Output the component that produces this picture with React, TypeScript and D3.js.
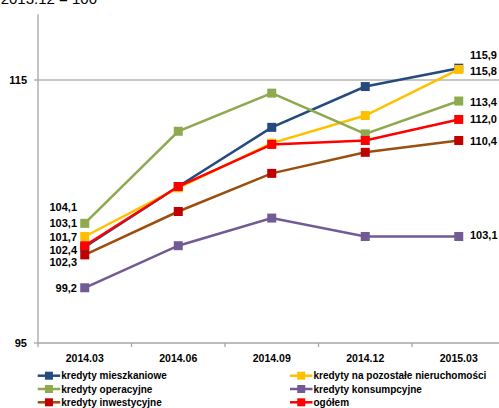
import React from "react";
import * as d3 from "d3";

const categories = ["2014.03", "2014.06", "2014.09", "2014.12", "2015.03"];
const seriesNames = [
  "kredyty mieszkaniowe",
  "kredyty na pozostałe nieruchomości",
  "kredyty operacyjne",
  "kredyty konsumpcyjne",
  "kredyty inwestycyjne",
  "ogółem",
];
const mieszkaniowe = [102.3, 106.9, 111.4, 114.5, 115.9];
const pozostale = [103.1, 106.8, 110.2, 112.3, 115.8];
const operacyjne = [104.1, 111.1, 114.0, 110.9, 113.4];
const konsumpcyjne = [99.2, 102.4, 104.5, 103.1, 103.1];
const inwestycyjne = [101.7, 105.0, 107.9, 109.5, 110.4];
const ogolem = [102.4, 106.9, 110.1, 110.4, 112.0];
const yTicks = [95, 115];
const baseLabel = "2013.12 = 100";

const seriesValues = [mieszkaniowe, pozostale, operacyjne, konsumpcyjne, inwestycyjne, ogolem];
const lineColors = ["#244A7E", "#FFC000", "#8EA94E", "#725A94", "#9B4F0F", "#FF0000"];
const markerColors = ["#244A7E", "#FFC000", "#8EA94E", "#725A94", "#C00000", "#FF0000"];
// manual label nudges (px) for first and last data labels
const firstLabelDy = [15, -13.3, -16, 0, -18.3, 4.4];
const lastLabelDy = [-13, 2, 0.6, -1, 0.2, -0.5];

export default function App() {
  const W = 499;
  const H = 408;
  const x0 = 38;
  const x = d3.scaleBand<string>().domain(categories).range([x0, 505.5]).padding(0);
  const cx = (c: string) => (x(c) as number) + x.bandwidth() / 2;
  const y = d3.scaleLinear().domain([95, 120]).range([343, 14.25]);
  const line = d3
    .line<number>()
    .x((_, i) => cx(categories[i]))
    .y((d) => y(d));
  const fmt = (v: number) => v.toFixed(1).replace(".", ",");
  const ms = 9;
  const font = "Arial, 'Liberation Sans', sans-serif";
  const ticksX = categories.map((c) => x(c) as number);

  const legendRows = [375.7, 389, 402.3];
  const legendCols = [37.7, 290];

  return (
    <svg
      width={W}
      height={H}
      style={{ position: "absolute", left: 0, top: 0 }}
      fontFamily={font}
    >
      <rect width={W} height={H} fill="#fff" />
      <text x={97} y={4} textAnchor="end" fontSize={15} fill="#000">
        {baseLabel}
      </text>
      {/* gridline */}
      {yTicks
        .filter((t) => t !== 95)
        .map((t) => (
          <line key={t} x1={x0} x2={W} y1={y(t)} y2={y(t)} stroke="#b3b3b3" strokeWidth={1.3} />
        ))}
      {/* y axis */}
      <line x1={x0} x2={x0} y1={y(120)} y2={y(95)} stroke="#a6a6a6" strokeWidth={1.3} />
      {yTicks.map((t) => (
        <g key={t}>
          <line x1={x0 - 4} x2={x0} y1={y(t)} y2={y(t)} stroke="#a6a6a6" strokeWidth={1.3} />
          <text x={27} y={y(t) + 4} textAnchor="end" fontSize={11} fontWeight="bold">
            {t}
          </text>
        </g>
      ))}
      {/* x axis */}
      <line x1={x0} x2={W} y1={y(95)} y2={y(95)} stroke="#a6a6a6" strokeWidth={1.3} />
      {ticksX.map((t, i) => (
        <line key={i} x1={t} x2={t} y1={y(95)} y2={y(95) + 4} stroke="#a6a6a6" strokeWidth={1.3} />
      ))}
      {categories.map((c) => (
        <text key={c} x={cx(c)} y={361.5} textAnchor="middle" fontSize={10.5} fontWeight="bold">
          {c}
        </text>
      ))}
      {/* series */}
      {seriesValues.map((vals, si) => (
        <g key={si}>
          <path d={line(vals) || ""} fill="none" stroke={lineColors[si]} strokeWidth={2.5} />
          {vals.map((v, i) => (
            <rect
              key={i}
              x={cx(categories[i]) - ms / 2}
              y={y(v) - ms / 2}
              width={ms}
              height={ms}
              fill={markerColors[si]}
            />
          ))}
        </g>
      ))}
      {/* data labels */}
      {seriesValues.map((vals, si) => (
        <g key={"l" + si} fontSize={11} fontWeight="bold">
          <text x={77} y={y(vals[0]) + firstLabelDy[si] + 4} textAnchor="end">
            {fmt(vals[0])}
          </text>
          <text x={470} y={y(vals[vals.length - 1]) + lastLabelDy[si] + 4} textAnchor="start">
            {fmt(vals[vals.length - 1])}
          </text>
        </g>
      ))}
      {/* legend */}
      {seriesNames.map((n, i) => {
        const lx = legendCols[i % 2];
        const ly = legendRows[Math.floor(i / 2)];
        return (
          <g key={n}>
            <line x1={lx} x2={lx + 22.5} y1={ly} y2={ly} stroke={lineColors[i]} strokeWidth={2.5} />
            <rect x={lx + 11.25 - 4} y={ly - 4} width={8} height={8} fill={markerColors[i]} />
            <text x={lx + 23.5} y={ly + 3.6} fontSize={10} fontWeight="bold">
              {n}
            </text>
          </g>
        );
      })}
    </svg>
  );
}
